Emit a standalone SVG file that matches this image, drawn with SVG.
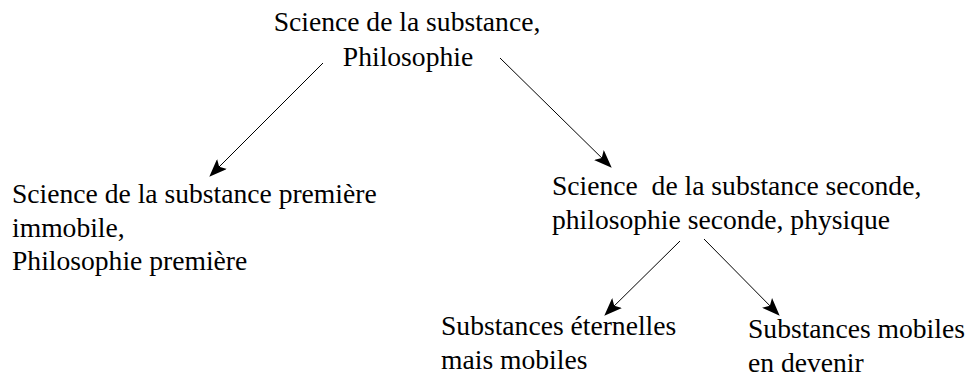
<svg xmlns="http://www.w3.org/2000/svg" width="967" height="376" viewBox="0 0 967 376">
<style>
.c{stroke:#000;stroke-width:1;fill:none}
</style>
<defs>
<marker id="ah" markerWidth="18" markerHeight="14" refX="17" refY="7" orient="auto" markerUnits="userSpaceOnUse">
<path d="M0,0 L18,7 L0,14 L4,7 Z" fill="#000"/>
</marker>
</defs>
<rect width="967" height="376" fill="#fff"/>
<g id="root">
<text x="407" y="31" text-anchor="middle" font-family="Liberation Serif" font-size="27.6">Science de la substance,</text>
<text x="408" y="66" text-anchor="middle" font-family="Liberation Serif" font-size="27.6">Philosophie</text>
</g>
<g id="premiere">
<text x="12" y="203" font-family="Liberation Serif" font-size="27.6">Science de la substance première</text>
<text x="12" y="237" font-family="Liberation Serif" font-size="27.6">immobile,</text>
<text x="12" y="270" font-family="Liberation Serif" font-size="27.6">Philosophie première</text>
</g>
<g id="seconde">
<text x="552" y="195" font-family="Liberation Serif" font-size="27.6" xml:space="preserve">Science  de la substance seconde,</text>
<text x="552" y="229" font-family="Liberation Serif" font-size="27.6">philosophie seconde, physique</text>
</g>
<g id="eternelles">
<text x="441" y="335" font-family="Liberation Serif" font-size="27.6">Substances éternelles</text>
<text x="441" y="369" font-family="Liberation Serif" font-size="27.6">mais mobiles</text>
</g>
<g id="mobiles">
<text x="748" y="338" font-family="Liberation Serif" font-size="27.6">Substances mobiles</text>
<text x="748" y="372" font-family="Liberation Serif" font-size="27.6">en devenir</text>
</g>
<g id="connectors">
<line class="c" x1="323" y1="63" x2="210" y2="176" marker-end="url(#ah)"/>
<line class="c" x1="500" y1="58" x2="611" y2="167" marker-end="url(#ah)"/>
<line class="c" x1="680" y1="241" x2="605" y2="315" marker-end="url(#ah)"/>
<line class="c" x1="704" y1="239" x2="779" y2="315" marker-end="url(#ah)"/>
</g>
</svg>
